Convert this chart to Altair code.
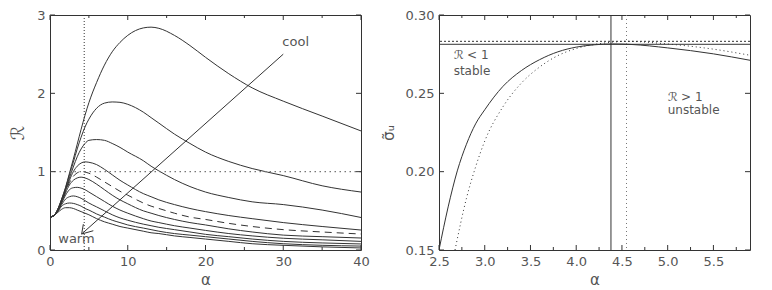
import altair as alt
import pandas as pd

# ---------------- left panel data ----------------
alpha_grid = [0, 0.5, 1, 1.5, 2, 2.5, 3, 3.5, 4, 4.5, 5, 6, 7, 8, 9, 10, 12, 13, 14, 16, 18, 20, 23, 26, 30, 35, 40]

R_A = [0.42, 0.44, 0.52, 0.65, 0.80, 0.98, 1.16, 1.35, 1.54, 1.72, 1.88, 2.14, 2.36, 2.53, 2.65, 2.74, 2.835, 2.845, 2.83, 2.74, 2.61, 2.46, 2.25, 2.07, 1.90, 1.71, 1.52]
R_B = [0.42, 0.44, 0.52, 0.65, 0.79, 0.96, 1.12, 1.29, 1.44, 1.57, 1.67, 1.81, 1.875, 1.89, 1.885, 1.86, 1.76, 1.69, 1.62, 1.48, 1.36, 1.25, 1.13, 1.04, 0.95, 0.82, 0.74]
R_C = [0.42, 0.44, 0.52, 0.64, 0.77, 0.92, 1.06, 1.19, 1.29, 1.36, 1.40, 1.41, 1.40, 1.36, 1.31, 1.25, 1.14, 1.07, 1.01, 0.90, 0.81, 0.74, 0.67, 0.615, 0.58, 0.51, 0.415]
R_D = [0.42, 0.44, 0.51, 0.63, 0.76, 0.89, 1.00, 1.07, 1.11, 1.125, 1.12, 1.09, 1.03, 0.96, 0.89, 0.83, 0.72, 0.68, 0.64, 0.58, 0.53, 0.49, 0.44, 0.40, 0.35, 0.30, 0.255]
R_dash = [0.42, 0.44, 0.51, 0.62, 0.75, 0.86, 0.94, 0.985, 1.0, 0.995, 0.98, 0.93, 0.87, 0.81, 0.75, 0.70, 0.60, 0.56, 0.53, 0.47, 0.42, 0.39, 0.34, 0.30, 0.26, 0.23, 0.204]
R_E = [0.42, 0.44, 0.50, 0.61, 0.73, 0.83, 0.89, 0.92, 0.93, 0.92, 0.90, 0.84, 0.77, 0.70, 0.64, 0.59, 0.50, 0.47, 0.44, 0.39, 0.35, 0.32, 0.27, 0.23, 0.19, 0.17, 0.153]
R_F = [0.42, 0.44, 0.50, 0.60, 0.70, 0.77, 0.795, 0.80, 0.79, 0.77, 0.74, 0.68, 0.62, 0.56, 0.51, 0.47, 0.40, 0.37, 0.35, 0.31, 0.28, 0.25, 0.21, 0.18, 0.15, 0.13, 0.11]
R_G = [0.42, 0.44, 0.50, 0.58, 0.65, 0.68, 0.69, 0.68, 0.66, 0.63, 0.60, 0.55, 0.50, 0.45, 0.41, 0.38, 0.33, 0.31, 0.29, 0.26, 0.23, 0.20, 0.17, 0.14, 0.11, 0.09, 0.077]
R_H = [0.42, 0.44, 0.49, 0.56, 0.59, 0.60, 0.595, 0.58, 0.56, 0.53, 0.51, 0.46, 0.42, 0.38, 0.35, 0.32, 0.28, 0.26, 0.24, 0.21, 0.19, 0.17, 0.14, 0.11, 0.08, 0.06, 0.05]
R_I = [0.42, 0.44, 0.48, 0.52, 0.54, 0.54, 0.53, 0.51, 0.49, 0.47, 0.45, 0.40, 0.36, 0.33, 0.30, 0.28, 0.24, 0.22, 0.21, 0.18, 0.16, 0.14, 0.11, 0.08, 0.06, 0.04, 0.026]

solid_curves = {"A": R_A, "B": R_B, "C": R_C, "D": R_D, "E": R_E, "F": R_F, "G": R_G, "H": R_H, "I": R_I}

arrow_alpha = [4.07, 30.0]
arrow_R = [0.204, 2.50]
head1_alpha = [4.07, 4.29]
head1_R = [0.204, 0.33]
head2_alpha = [4.07, 5.57]
head2_R = [0.204, 0.246]

left_vline = 4.4
left_hline = 1.0
left_x_major = [0, 10, 20, 30, 40]
left_x_minor = [5, 15, 25, 35]
left_y_major = [0, 1, 2, 3]

# ---------------- right panel data ----------------
sig_solid_alpha = [2.5, 2.6, 2.7, 2.8, 2.9, 3.0, 3.2, 3.4, 3.6, 3.8, 4.0, 4.2, 4.4, 4.6, 5.0, 5.5, 5.9]
sig_solid = [0.15, 0.1775, 0.2005, 0.2175, 0.2305, 0.2395, 0.2545, 0.2645, 0.2715, 0.2765, 0.2795, 0.2810, 0.2815, 0.2812, 0.2790, 0.2752, 0.2711]
sig_dot_alpha = [2.675, 2.8, 2.9, 3.0, 3.2, 3.4, 3.6, 3.8, 4.0, 4.2, 4.4, 4.55, 5.0, 5.5, 5.9]
sig_dot = [0.15, 0.183, 0.203, 0.2195, 0.2415, 0.2565, 0.2668, 0.2741, 0.2786, 0.2812, 0.2827, 0.2832, 0.2815, 0.2782, 0.2743]

right_vline_solid = 4.38
right_hline_solid = 0.2813
right_vline_dot = 4.55
right_hline_dot = 0.2832
right_x_major = [2.5, 3.0, 3.5, 4.0, 4.5, 5.0, 5.5]
right_x_minor = [2.75, 3.25, 3.75, 4.25, 4.75, 5.25, 5.75]
right_y_major = [0.15, 0.20, 0.25, 0.30]

W, H = 311, 235
FONT = "DejaVu Sans"
TXT = "#555555"
LINE = "#333333"


def axis(values, title, fmt, orient_y=False, tsize=15):
    kw = dict(values=values, ticks=False, domain=False, grid=False, title=title, format=fmt,
              labelFont=FONT, labelFontSize=13, labelColor=TXT, labelPadding=5,
              titleFont=FONT, titleFontSize=tsize, titleColor=TXT, titleFontWeight="normal",
              labelFlush=False)
    if orient_y:
        kw["titlePadding"] = 9
        kw["titleAngle"] = -90
    else:
        kw["titlePadding"] = 4
    return alt.Axis(**kw)


def inward_ticks(xs_major, xs_minor, ys_major, X, Y):
    layers = []
    for vals, ln in ((xs_major, 5), (xs_minor, 3)):
        d = pd.DataFrame({"alpha": vals})
        layers.append(alt.Chart(d).mark_rule(color=LINE, strokeWidth=1).encode(
            x=X("alpha:Q"), y=alt.value(H), y2=alt.value(H - ln)))
        layers.append(alt.Chart(d).mark_rule(color=LINE, strokeWidth=1).encode(
            x=X("alpha:Q"), y=alt.value(0), y2=alt.value(ln)))
    d = pd.DataFrame({"val": ys_major})
    layers.append(alt.Chart(d).mark_rule(color=LINE, strokeWidth=1).encode(
        y=Y("val:Q"), x=alt.value(0), x2=alt.value(5)))
    layers.append(alt.Chart(d).mark_rule(color=LINE, strokeWidth=1).encode(
        y=Y("val:Q"), x=alt.value(W), x2=alt.value(W - 5)))
    return layers


# ---------- left panel ----------
lx = alt.Scale(domain=[0, 40], nice=False, zero=False)
ly = alt.Scale(domain=[0, 3], nice=False, zero=False)
lxa = axis(left_x_major, "α", "d")
lya = axis(left_y_major, "ℛ", "d", True, 18)


def LX(f):
    return alt.X(f, scale=lx, axis=lxa)


def LY(f):
    return alt.Y(f, scale=ly, axis=lya)


rows = []
for name, vals in solid_curves.items():
    for a, r in zip(alpha_grid, vals):
        rows.append({"curve": name, "alpha": a, "val": r})
df_solid = pd.DataFrame(rows)
df_dash = pd.DataFrame({"alpha": alpha_grid, "val": R_dash})

base_solid = alt.Chart(df_solid).mark_line(color=LINE, strokeWidth=1, interpolate="monotone", clip=True).encode(
    x=LX("alpha:Q"), y=LY("val:Q"), detail="curve:N")
dash_line = alt.Chart(df_dash).mark_line(color=LINE, strokeWidth=1, strokeDash=[7, 5], interpolate="monotone", clip=True).encode(
    x=LX("alpha:Q"), y=LY("val:Q"))

vref = alt.Chart(pd.DataFrame({"alpha": [left_vline]})).mark_rule(color=LINE, strokeWidth=1, strokeDash=[1, 2]).encode(
    x=LX("alpha:Q"))
href = alt.Chart(pd.DataFrame({"val": [left_hline]})).mark_rule(color="#777777", strokeWidth=1.2, strokeDash=[1.5, 3.5]).encode(
    y=LY("val:Q"))

arrow_df = pd.DataFrame({
    "seg": ["a", "a", "h1", "h1", "h2", "h2"],
    "alpha": arrow_alpha + head1_alpha + head2_alpha,
    "val": arrow_R + head1_R + head2_R,
})
arrow = alt.Chart(arrow_df).mark_line(color=LINE, strokeWidth=1).encode(
    x=LX("alpha:Q"), y=LY("val:Q"), detail="seg:N")

lab_df = pd.DataFrame({"alpha": [31.6, 3.4], "val": [2.65, 0.14], "t": ["cool", "warm"]})
labels = alt.Chart(lab_df).mark_text(font=FONT, fontSize=13, color=TXT).encode(
    x=LX("alpha:Q"), y=LY("val:Q"), text="t:N")

left = alt.layer(base_solid, dash_line, vref, href, arrow, labels,
                 *inward_ticks(left_x_major, left_x_minor, left_y_major, LX, LY)).properties(width=W, height=H)

# ---------- right panel ----------
rx = alt.Scale(domain=[2.5, 5.9], nice=False, zero=False)
ry = alt.Scale(domain=[0.15, 0.30], nice=False, zero=False)
rxa = axis(right_x_major, "α", ".1f")
rya = axis(right_y_major, "σ̃ᵤ", ".2f", True)


def RX(f):
    return alt.X(f, scale=rx, axis=rxa)


def RY(f):
    return alt.Y(f, scale=ry, axis=rya)


df_s = pd.DataFrame({"alpha": sig_solid_alpha, "val": sig_solid})
df_d = pd.DataFrame({"alpha": sig_dot_alpha, "val": sig_dot})

s_line = alt.Chart(df_s).mark_line(color=LINE, strokeWidth=1, interpolate="monotone", clip=True).encode(
    x=RX("alpha:Q"), y=RY("val:Q"))
d_line = alt.Chart(df_d).mark_line(color=LINE, strokeWidth=1, strokeDash=[1, 3], interpolate="monotone", clip=True).encode(
    x=RX("alpha:Q"), y=RY("val:Q"))

rv_s = alt.Chart(pd.DataFrame({"alpha": [right_vline_solid]})).mark_rule(color=LINE, strokeWidth=1).encode(x=RX("alpha:Q"))
rh_s = alt.Chart(pd.DataFrame({"val": [right_hline_solid]})).mark_rule(color=LINE, strokeWidth=1).encode(y=RY("val:Q"))
rv_d = alt.Chart(pd.DataFrame({"alpha": [right_vline_dot]})).mark_rule(color="#777777", strokeWidth=1, strokeDash=[1, 3]).encode(x=RX("alpha:Q"))
rh_d = alt.Chart(pd.DataFrame({"val": [right_hline_dot]})).mark_rule(color=LINE, strokeWidth=1, strokeDash=[2, 2]).encode(y=RY("val:Q"))

rt_df = pd.DataFrame({
    "alpha": [2.66, 2.66, 5.0, 5.0],
    "val": [0.2742, 0.2640, 0.2477, 0.2391],
    "t": ["ℛ < 1", "stable", "ℛ > 1", "unstable"],
})
rtext = alt.Chart(rt_df).mark_text(font=FONT, fontSize=12, color=TXT, align="left").encode(
    x=RX("alpha:Q"), y=RY("val:Q"), text="t:N")

right = alt.layer(s_line, d_line, rv_s, rh_s, rv_d, rh_d, rtext,
                  *inward_ticks(right_x_major, right_x_minor, right_y_major, RX, RY)).properties(width=W, height=H)

chart = alt.hconcat(left, right, spacing=10).properties(
    padding={"left": 1, "top": 0, "right": 5, "bottom": 0},
    background="white",
).configure_view(stroke=LINE, strokeWidth=1)

chart.save("out.html", embed_options={"renderer": "svg", "actions": False})
